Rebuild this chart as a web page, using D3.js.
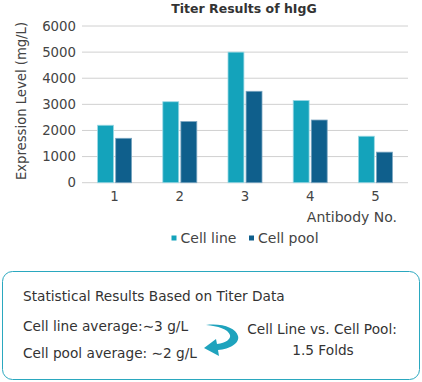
<!DOCTYPE html>
<html>
<head>
<meta charset="utf-8">
<script src="https://cdn.jsdelivr.net/npm/d3@7"></script>
<style>
  body { margin: 0; background: #fff; }
  svg { display: block; font-family: "DejaVu Sans", sans-serif; }
</style>
</head>
<body>
<div id="chart"></div>
<script>
// data
const antibodies = ["1", "2", "3", "4", "5"];
const seriesNames = ["Cell line", "Cell pool"];
const cellLine = [2200, 3100, 5000, 3150, 1780];
const cellPool = [1700, 2340, 3500, 2400, 1170];
const yTicks = [0, 1000, 2000, 3000, 4000, 5000, 6000];
const colors = ["#14a3bb", "#0f5f8c"];

const W = 422, H = 382;
const svg = d3.select("#chart").append("svg").attr("width", W).attr("height", H);

const x = d3.scaleBand().domain(antibodies).range([82, 408]);
const xs = d3.scaleBand().domain(seriesNames).range([0, 34]).paddingInner(0.12);
const y = d3.scaleLinear().domain([0, 6000]).range([182.7, 26]);

// title
svg.append("text").attr("x", 244).attr("y", 13).attr("text-anchor", "middle")
  .attr("font-size", 12.5).attr("font-weight", "bold").attr("fill", "#333")
  .text("Titer Results of hIgG");

// grid lines
svg.append("g").selectAll("line").data(yTicks).enter().append("line")
  .attr("x1", 82).attr("x2", 408)
  .attr("y1", d => y(d)).attr("y2", d => y(d))
  .attr("stroke", "#d0d0d0").attr("stroke-width", 1);

// y tick labels
svg.append("g").selectAll("text").data(yTicks).enter().append("text")
  .attr("x", 76).attr("y", d => y(d)).attr("dy", "0.35em")
  .attr("text-anchor", "end").attr("font-size", 13.3).attr("fill", "#444")
  .text(d => d);

// y axis title
svg.append("text").attr("transform", "translate(26,101) rotate(-90)")
  .attr("text-anchor", "middle").attr("font-size", 13.2).attr("fill", "#444")
  .text("Expression Level (mg/L)");

// bars
const rows = antibodies.map((a, i) => ({ a, vals: [cellLine[i], cellPool[i]] }));
const groups = svg.append("g").selectAll("g").data(rows).enter().append("g")
  .attr("transform", d => "translate(" + (x(d.a) + (x.bandwidth() - 34) / 2) + ",0)");
groups.selectAll("rect").data(d => d.vals.map((v, j) => ({ s: seriesNames[j], v, j })))
  .enter().append("rect")
  .attr("x", d => xs(d.s))
  .attr("width", xs.bandwidth())
  .attr("y", d => y(d.v))
  .attr("height", d => y(0) - y(d.v))
  .attr("fill", d => colors[d.j])
  .attr("stroke", d => d.j === 0 ? "#9bd8e4" : "#7aa5c0")
  .attr("stroke-width", 0.8);

// x tick labels
svg.append("g").selectAll("text").data(antibodies).enter().append("text")
  .attr("x", d => x(d) + x.bandwidth() / 2).attr("y", 196).attr("dy", "0.35em")
  .attr("text-anchor", "middle").attr("font-size", 13.3).attr("fill", "#444")
  .text(d => d);

svg.append("text").attr("x", 397).attr("y", 222).attr("text-anchor", "end")
  .attr("font-size", 14).attr("fill", "#444").text("Antibody No.");

// legend
const legX = [171.5, 249];
const leg = svg.append("g").selectAll("g").data(seriesNames).enter().append("g")
  .attr("transform", (d, i) => "translate(" + legX[i] + ",238)");
leg.append("rect").attr("x", 0).attr("y", -2.5).attr("width", 5).attr("height", 5)
  .attr("fill", (d, i) => colors[i]);
leg.append("text").attr("x", 9).attr("y", 0).attr("dy", "0.35em")
  .attr("font-size", 14).attr("fill", "#444").text(d => d);

// statistics box
svg.append("rect").attr("x", 2.5).attr("y", 271.5).attr("width", 417).attr("height", 108)
  .attr("rx", 10).attr("fill", "none").attr("stroke", "#2aa8bf").attr("stroke-width", 1);

const stats = [
  { t: "Statistical Results Based on Titer Data", x: 23, y: 296, a: "start" },
  { t: "Cell line average:\u223c3 g/L", x: 23, y: 326, a: "start" },
  { t: "Cell pool average: \u223c2 g/L", x: 23, y: 353, a: "start" },
  { t: "Cell Line vs. Cell Pool:", x: 322, y: 329, a: "middle" },
  { t: "1.5 Folds", x: 323, y: 350, a: "middle" }
];
svg.append("g").selectAll("text").data(stats).enter().append("text")
  .attr("x", d => d.x).attr("y", d => d.y).attr("dy", "0.35em")
  .attr("text-anchor", d => d.a).attr("font-size", 13.7).attr("fill", "#333")
  .text(d => d.t);

// curved arrow
const arrow = d3.path();
arrow.moveTo(206, 325);
arrow.bezierCurveTo(222, 323, 236, 328, 238, 336);
arrow.bezierCurveTo(240, 343, 230, 349, 218, 350);
arrow.lineTo(219, 356);
arrow.lineTo(204, 348);
arrow.lineTo(216, 339);
arrow.lineTo(217, 344);
arrow.bezierCurveTo(226, 343, 231, 339, 230, 335);
arrow.bezierCurveTo(228, 329, 218, 326, 206, 325);
arrow.closePath();
svg.append("path").attr("d", arrow.toString()).attr("fill", "#1fa3bd");
</script>
</body>
</html>
